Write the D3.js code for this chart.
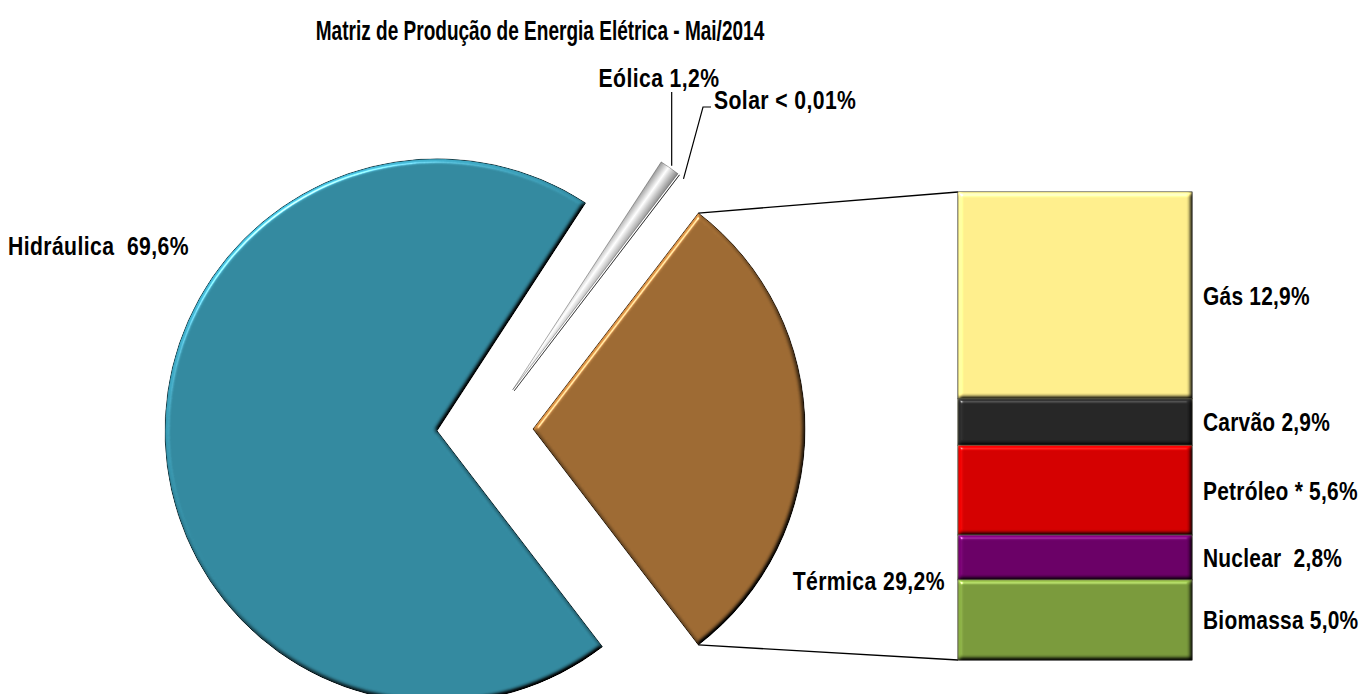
<!DOCTYPE html>
<meta charset="utf-8" />
<style>
    body { margin: 0; background: #fff; }
    text { font-weight: bold; fill: #000; white-space: pre; }
</style>
<title>Matriz de Produção de Energia Elétrica</title>
<body></body>
<script src="https://d3js.org/d3.v7.min.js"></script>
<script>

    // dados
    var categorias = ["Hidráulica", "Eólica", "Solar", "Térmica"];
    var valores = [69.6, 1.2, 0.01, 29.2];
    var rotulosPizza = ["Hidráulica  69,6%", "Eólica 1,2%", "Solar < 0,01%", "Térmica 29,2%"];

    var subCategorias = ["Gás", "Carvão", "Petróleo *", "Nuclear", "Biomassa"];
    var subValores = [12.9, 2.9, 5.6, 2.8, 5.0];
    var subRotulos = ["Gás 12,9%", "Carvão 2,9%", "Petróleo * 5,6%", "Nuclear  2,8%", "Biomassa 5,0%"];

    var titulo = "Matriz de Produção de Energia Elétrica - Mai/2014";

    var coresPizza = ["#33899f", "#d8d8d8", "#d8d8d8", "#9d6a33"];
    var coresBarra = ["#feee8c", "#262626", "#d40000", "#6a0066", "#7a9a3c"];

    var svgWidth = 1370, svgHeight = 694;
    var cx = 485, cy = 429, raio = 272, explode = 48;
    var barra = {x: 958, w: 234, top: 192, bottom: 660};

    // fonte estreita (Arial Narrow) se existir
    function temFonte(nome) {
        var c = document.createElement("canvas").getContext("2d");
        c.font = "bold 40px monospace";
        var w0 = c.measureText("Matriz de Produção").width;
        c.font = "bold 40px '" + nome + "', monospace";
        return c.measureText("Matriz de Produção").width !== w0;
    }
    var narrow = temFonte("Liberation Sans Narrow");
    var fonte = narrow ? "'Liberation Sans Narrow', 'Liberation Sans', sans-serif" : "'Liberation Sans', Arial, sans-serif";

    var svg = d3.select("body").append("svg")
        .attr("width", svgWidth)
        .attr("height", svgHeight)
        .style("font-family", fonte);

    var defs = svg.append("defs");

    // efeito chanfro (bevel) parecido com o do Excel
    var f = defs.append("filter").attr("id", "bevel")
        .attr("color-interpolation-filters", "sRGB")
        .attr("x", "-5%").attr("y", "-5%").attr("width", "110%").attr("height", "110%");
    f.append("feGaussianBlur").attr("in", "SourceAlpha").attr("stdDeviation", 2).attr("result", "blur");
    f.append("feDiffuseLighting").attr("in", "blur").attr("surfaceScale", 3)
        .attr("diffuseConstant", 1).attr("lighting-color", "#fff").attr("result", "diff")
        .append("feDistantLight").attr("azimuth", 235).attr("elevation", 45);
    f.append("feComposite").attr("in", "SourceGraphic").attr("in2", "diff")
        .attr("operator", "arithmetic").attr("k1", 1.414).attr("result", "shaded");
    f.append("feSpecularLighting").attr("in", "blur").attr("surfaceScale", 3)
        .attr("specularConstant", 0.9).attr("specularExponent", 60)
        .attr("lighting-color", "#fff").attr("result", "spec")
        .append("feDistantLight").attr("azimuth", 235).attr("elevation", 45);
    f.append("feComposite").attr("in", "spec").attr("in2", "SourceAlpha")
        .attr("operator", "in").attr("result", "specIn");
    f.append("feComposite").attr("in", "shaded").attr("in2", "specIn")
        .attr("operator", "arithmetic").attr("k2", 1).attr("k3", 0.7);

    // pizza
    var total = d3.sum(valores);
    var spanTermica = 2 * Math.PI * valores[3] / total;
    var inicio = Math.PI / 2 + spanTermica / 2;

    var pie = d3.pie().sort(null).startAngle(inicio).endAngle(inicio + 2 * Math.PI);
    var arcs = pie(valores);
    var arc = d3.arc().innerRadius(0).outerRadius(raio);

    function desloc(d) {
        var a = (d.startAngle + d.endAngle) / 2;
        return [cx + explode * Math.sin(a), cy - explode * Math.cos(a)];
    }

    // gradiente prateado da fatia eólica
    var eol = arcs[1], aEol = (eol.startAngle + eol.endAngle) / 2;
    var larg = raio * Math.sin((eol.endAngle - eol.startAngle) / 2) + 1;
    var mx = raio * Math.sin(aEol), my = -raio * Math.cos(aEol);
    var gEol = defs.append("linearGradient").attr("id", "prata")
        .attr("gradientUnits", "userSpaceOnUse")
        .attr("x1", mx - larg * Math.cos(aEol)).attr("y1", my - larg * Math.sin(aEol))
        .attr("x2", mx + larg * Math.cos(aEol)).attr("y2", my + larg * Math.sin(aEol));
    gEol.append("stop").attr("offset", "0%").attr("stop-color", "#8c8c8c");
    gEol.append("stop").attr("offset", "45%").attr("stop-color", "#ffffff");
    gEol.append("stop").attr("offset", "100%").attr("stop-color", "#7a7a7a");

    svg.append("g").selectAll("path")
        .data(arcs)
        .enter().append("path")
        .attr("transform", function (d) { return "translate(" + desloc(d) + ")"; })
        .attr("d", arc)
        .attr("fill", function (d, i) { return i === 1 ? "url(#prata)" : coresPizza[i]; })
        .attr("stroke", "rgba(0,0,0,0.45)")
        .attr("stroke-width", 0.7)
        .attr("filter", function (d, i) { return i === 1 ? null : "url(#bevel)"; });

    // barra empilhada
    var y = d3.scaleLinear().domain([0, d3.sum(subValores)]).range([barra.top, barra.bottom]);
    var acum = d3.cumsum(subValores);
    var segs = subValores.map(function (v, i) { return {v: v, y0: acum[i] - v, y1: acum[i]}; });

    // linhas de ligação
    var term = arcs[3], dT = desloc(term);
    function ponta(a) { return [dT[0] + raio * Math.sin(a), dT[1] - raio * Math.cos(a)]; }
    var pTop = ponta(term.startAngle), pBot = ponta(term.endAngle);
    svg.append("line").attr("x1", pTop[0]).attr("y1", pTop[1])
        .attr("x2", barra.x).attr("y2", y(0)).attr("stroke", "#000").attr("stroke-width", 1.3);
    svg.append("line").attr("x1", pBot[0]).attr("y1", pBot[1])
        .attr("x2", barra.x).attr("y2", y(d3.sum(subValores))).attr("stroke", "#000").attr("stroke-width", 1.3);

    svg.append("g").selectAll("rect")
        .data(segs)
        .enter().append("rect")
        .attr("x", barra.x)
        .attr("y", function (d) { return y(d.y0); })
        .attr("width", barra.w)
        .attr("height", function (d) { return y(d.y1) - y(d.y0); })
        .attr("fill", function (d, i) { return coresBarra[i]; })
        .attr("stroke", "#55553f")
        .attr("stroke-width", 0.8)
        .attr("filter", "url(#bevel)");

    svg.append("g").selectAll("text")
        .data(segs)
        .enter().append("text")
        .attr("x", barra.x + barra.w + 11)
        .attr("y", function (d) { return (y(d.y0) + y(d.y1)) / 2 + 9.5; })
        .style("font-size", "25.5px")
        .style("letter-spacing", "0.3px")
        .text(function (d, i) { return subRotulos[i]; });

    // linhas guia de Eólica e Solar
    var pEol = [desloc(arcs[1])[0] + raio * Math.sin(aEol), desloc(arcs[1])[1] - raio * Math.cos(aEol)];
    svg.append("path").attr("d", "M" + (pEol[0] + 2) + "," + (pEol[1] - 2) + "V92")
        .attr("fill", "none").attr("stroke", "#000").attr("stroke-width", 1.2);
    var sol = arcs[2], aSol = (sol.startAngle + sol.endAngle) / 2;
    var pSol = [desloc(sol)[0] + raio * Math.sin(aSol), desloc(sol)[1] - raio * Math.cos(aSol)];
    svg.append("path").attr("d", "M" + (pSol[0] + 4) + "," + (pSol[1] + 4) + "L703,107H711")
        .attr("fill", "none").attr("stroke", "#000").attr("stroke-width", 1.2);

    // rótulos da pizza
    var posRot = [[8, 255, "start"], [659, 87, "middle"], [714, 109, "start"], [945, 590, "end"]];
    svg.append("g").selectAll("text")
        .data(rotulosPizza)
        .enter().append("text")
        .attr("x", function (d, i) { return posRot[i][0]; })
        .attr("y", function (d, i) { return posRot[i][1]; })
        .attr("text-anchor", function (d, i) { return posRot[i][2]; })
        .style("font-size", "25.8px")
        .style("letter-spacing", "0.5px")
        .text(function (d) { return d; });

    svg.append("text")
        .attr("transform", "translate(540,40) scale(0.86,1)")
        .attr("text-anchor", "middle")
        .style("font-size", "27px")
        .text(titulo);

    // sem fonte estreita: comprime o texto
    if (!narrow) {
        svg.selectAll("text").each(function () {
            var w = this.getComputedTextLength();
            d3.select(this).attr("textLength", w * 0.82).attr("lengthAdjust", "spacingAndGlyphs");
        });
    }

</script>
